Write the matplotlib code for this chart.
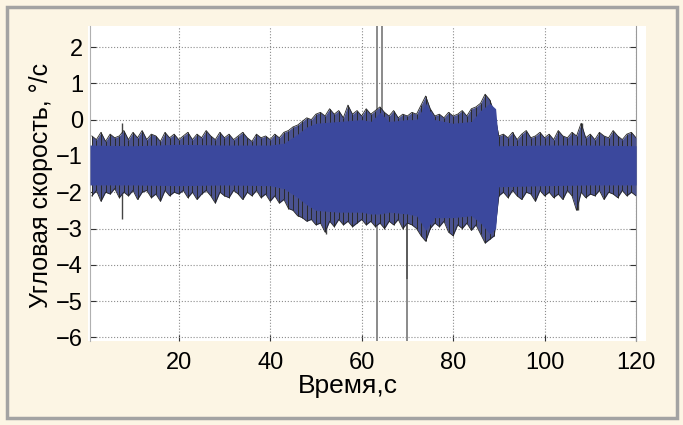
import matplotlib.pyplot as plt
from matplotlib.patches import Rectangle

# time grid (s) for the outer (spiky) envelope of the signal
t_outer = list(range(1, 121))
up_outer = [
    -0.45, -0.55, -0.35, -0.6, -0.4, -0.5, -0.45, -0.3, -0.55, -0.35,
    -0.5, -0.3, -0.55, -0.4, -0.45, -0.6, -0.35, -0.5, -0.4, -0.55,
    -0.45, -0.35, -0.55, -0.4, -0.5, -0.3, -0.45, -0.55, -0.35, -0.5,
    -0.4, -0.55, -0.45, -0.35, -0.5, -0.6, -0.4, -0.5, -0.45, -0.55,
    -0.4, -0.5, -0.35, -0.3, -0.2, -0.15, -0.05, 0.05, 0.0, 0.15,
    0.2, 0.1, 0.3, 0.15, 0.25, 0.05, 0.4, 0.15, 0.25, 0.1,
    0.3, 0.15, 0.25, 0.35, 0.2, 0.1, 0.25, 0.05, 0.15, 0.1,
    0.2, 0.15, 0.4, 0.65, 0.3, 0.1, 0.15, 0.05, 0.2, 0.1,
    0.15, 0.25, 0.1, 0.3, 0.35, 0.45, 0.7, 0.55, 0.2, -0.45,
    -0.4, -0.5, -0.35, -0.55, -0.4, -0.3, -0.5, -0.45, -0.35, -0.5,
    -0.4, -0.55, -0.3, -0.45, -0.5, -0.35, -0.45, -0.1, -0.5, -0.4,
    -0.55, -0.35, -0.45, -0.5, -0.3, -0.45, -0.55, -0.4, -0.35, -0.5,
]
lo_outer = [
    -2.1, -1.95, -2.25, -2.0, -2.05, -1.9, -2.15, -2.0, -2.1, -1.95,
    -2.2, -2.0, -1.95, -2.15, -2.05, -2.25, -1.95, -2.1, -2.0, -2.05,
    -1.95, -2.15, -2.0, -2.2, -2.05, -1.95, -2.1, -2.3, -2.0, -2.1,
    -2.15, -1.95, -2.05, -2.2, -2.0, -2.1, -1.95, -2.15, -2.05, -2.25,
    -2.1, -2.3, -2.2, -2.45, -2.5, -2.65, -2.7, -2.8, -2.75, -2.9,
    -2.85, -3.1, -2.8, -2.95, -2.75, -2.9, -2.8, -2.95, -2.85, -2.75,
    -2.9, -2.8, -2.95, -2.85, -3.0, -2.8, -2.9, -2.75, -3.0, -2.85,
    -2.9, -3.0, -3.2, -3.35, -3.0, -2.85, -2.95, -2.8, -3.1, -3.2,
    -2.9, -3.0, -2.85, -3.05, -2.9, -3.15, -3.4, -3.3, -3.2, -2.1,
    -2.0, -2.15, -1.95, -2.1, -2.2, -2.0, -2.05, -2.25, -1.95, -2.1,
    -2.0, -2.15, -2.05, -2.2, -1.95, -2.1, -2.5, -2.0, -2.15, -2.05,
    -2.1, -1.95, -2.2, -2.0, -2.05, -2.15, -1.95, -2.1, -2.0, -2.1,
]

# solid (dense) part of the signal band
t_core = [0.6, 10, 20, 30, 40, 43, 46, 48, 50, 55, 60, 62, 64, 66, 70,
          72, 74, 76, 80, 84, 86, 88, 89.3, 90, 100, 110, 120]
up_core = [-0.7, -0.72, -0.68, -0.7, -0.7, -0.65, -0.4, -0.2, -0.1, -0.05, 0.0, -0.05, 0.2, -0.05, 0.0,
           0.0, 0.45, 0.0, -0.1, -0.05, 0.25, 0.45, 0.3, -0.72, -0.7, -0.7, -0.72]
lo_core = [-1.8, -1.8, -1.82, -1.8, -1.82, -1.9, -2.15, -2.35, -2.5, -2.55, -2.55, -2.6, -2.6, -2.55, -2.6,
           -2.65, -3.05, -2.7, -2.7, -2.65, -2.85, -3.15, -3.0, -1.85, -1.82, -1.8, -1.8]

# isolated spikes: time, low, high
spike_t = [7.6, 52.3, 107.4, 108.3]
spike_lo = [-2.73, -3.15, -2.5, -1.6]
spike_hi = [-0.08, -0.5, -0.9, -0.08]
# large outliers (drawn in gray)
big_t = [63.4, 64.5, 69.9]
big_lo = [-6.1, -1.0, -6.1]
big_hi = [2.6, 2.6, -1.0]

plt.rcParams['font.family'] = ['Liberation Sans', 'DejaVu Sans']

fig = plt.figure(figsize=(6.83, 4.25), dpi=100, facecolor='#fcf5e4')
fig.patches.append(Rectangle((7 / 683, 7 / 425), 670 / 683, 411 / 425, transform=fig.transFigure,
                             fill=False, edgecolor='#a3a3a3', linewidth=2.5, zorder=-2))
fig.patches.append(Rectangle((88 / 683, 84 / 425), 558 / 683, 315 / 425, transform=fig.transFigure,
                             facecolor='white', edgecolor='none', zorder=-1))

ax = fig.add_axes([90 / 683, 84 / 425, 546 / 683, 315 / 425])
ax.set_facecolor('white')

blue = '#3b489d'
ax.vlines(big_t, big_lo, big_hi, color='#8a8a8a', linewidth=1.4, zorder=2)
ax.vlines([69.9], [-4.4], [-1.5], color='#555555', linewidth=1.2, zorder=2)
ax.vlines(spike_t, spike_lo, spike_hi, color='#444444', linewidth=1.0, zorder=3)
# spiky fringe: blue fill with dark outline and dark sample lines
ax.fill_between(t_outer, lo_outer, up_outer, color='#4a5290', linewidth=0, zorder=3)
ax.vlines(t_outer, lo_outer, up_outer, color='#2a2a2a', linewidth=0.7, zorder=3)
ax.plot(t_outer, up_outer, color='#262626', linewidth=0.6, zorder=3)
ax.plot(t_outer, lo_outer, color='#262626', linewidth=0.6, zorder=3)
ax.fill_between(t_core, lo_core, up_core, color=blue, linewidth=0, zorder=4)

ax.set_xlim(0.6, 120)
ax.set_ylim(-6.1, 2.58)
ax.set_xticks([20, 40, 60, 80, 100, 120])
ax.set_yticks([-6, -5, -4, -3, -2, -1, 0, 1, 2])
ax.set_yticklabels(['\u22126', '\u22125', '\u22124', '\u22123', '\u22122', '\u22121', '0', '1', '2'])
ax.grid(True, linestyle=':', color='#8c8c8c', linewidth=0.8)
ax.set_axisbelow(True)
ax.tick_params(direction='in', length=4, width=0.8, color='#333333', labelsize=17,
               right=True, top=False)
ax.tick_params(axis='x', pad=8)
ax.tick_params(axis='y', pad=5)
for side in ['top', 'bottom']:
    ax.spines[side].set_visible(False)
ax.spines['left'].set_color('#b0b0b0')
ax.spines['right'].set_color('#9a9a9a')

fig.text(348 / 683, 1 - 386 / 425, 'Время,с', ha='center', va='center', fontsize=19)
fig.text(41 / 683, 1 - 185 / 425, 'Угловая скорость, °/с', ha='center', va='center',
         rotation=90, fontsize=18)

fig.savefig('out.png', dpi=100, facecolor=fig.get_facecolor())
